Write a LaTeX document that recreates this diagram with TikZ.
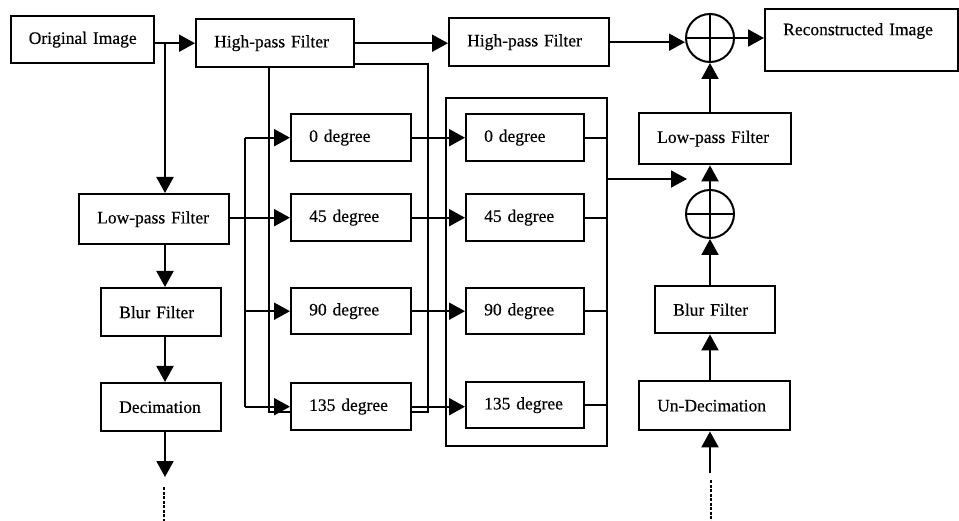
\documentclass[tikz,border=0pt]{standalone}
\usepackage{fontspec}
\setmainfont{Liberation Serif}[FakeBold=0.4]
\usetikzlibrary{arrows.meta}
\begin{document}
\begin{tikzpicture}[x=1pt,y=-1pt,
  font=\fontsize{17.5}{20}\selectfont,
  line width=2pt,
  >={Triangle[length=16pt,width=17pt]},
  box/.style={draw, line width=2.4pt, rectangle, inner xsep=18pt, inner ysep=0pt, align=left, anchor=north west},
  sumnode/.style={draw, circle, line width=2pt, minimum size=48pt, inner sep=0pt},
  dashedline/.style={line width=1.3pt, dash pattern=on 3pt off 1.5pt},
]
\useasboundingbox (0,0) rectangle (959,521);

% left column
\node[box, inner xsep=5pt, align=center, text width=133pt, minimum height=47pt] (orig) at (10,15) {Original Image};
\node[box, text width=122pt, minimum height=48pt] (hpf1) at (195,18) {High-pass Filter};
\node[box, text width=124pt, minimum height=48pt] (hpf2) at (448,17) {High-pass Filter};
\node[box, text width=157pt, text height=26pt, text depth=36pt] (rec) at (764,8) {Reconstructed Image};
\node[box, text width=114pt, minimum height=50pt] (lpfL) at (78,193) {Low-pass Filter};
\node[box, text width=84pt, minimum height=48pt] (blurL) at (100,287) {Blur Filter};
\node[box, text width=84pt, minimum height=48pt] (dec) at (100,382) {Decimation};

% degree columns
\node[box, text width=84pt, minimum height=47pt] (d0) at (290,113) {0 degree};
\node[box, text width=84pt, minimum height=47pt] (d45) at (290,193) {45 degree};
\node[box, text width=84pt, minimum height=46pt] (d90) at (290,287) {90 degree};
\node[box, text width=84pt, minimum height=47pt] (d135) at (290,382) {135 degree};

\node[draw, line width=2.2pt, rectangle, inner sep=0pt, minimum width=161pt, minimum height=348pt, anchor=north west] (bank) at (445,97) {};
\node[box, text width=82pt, minimum height=47pt] (e0) at (465,113) {0 degree};
\node[box, text width=82pt, minimum height=47pt] (e45) at (465,193) {45 degree};
\node[box, text width=82pt, minimum height=46pt] (e90) at (465,287) {90 degree};
\node[box, text width=82pt, minimum height=46pt] (e135) at (465,381) {135 degree};

% right column
\node[sumnode] (s1) at (710,38) {};
\node[sumnode] (s2) at (710,214) {};
\draw[line width=2.6pt] (s1.north) -- (s1.south) (s1.west) -- (s1.east);
\draw[line width=2.6pt] (s2.north) -- (s2.south) (s2.west) -- (s2.east);
\node[box, text width=116pt, minimum height=51pt] (lpfR) at (638,112) {Low-pass Filter};
\node[box, text width=84pt, minimum height=47pt] (blurR) at (654,285) {Blur Filter};
\node[box, text width=115pt, minimum height=49pt] (undec) at (638,380) {Un-Decimation};

% coordinates
\coordinate (j1) at (165,42);
\coordinate (lout) at (165,477);
\coordinate (la) at (164,487);
\coordinate (lb) at (164,521);
\coordinate (bus) at (245,0);
\coordinate (hb) at (269,412);
\coordinate (hr) at (428,64);
\coordinate (bo) at (687,179);
\coordinate (ri) at (710,473);
\coordinate (ra) at (711,480);
\coordinate (rb) at (711,521);

% left connectors
\draw[->] (orig.east |- hpf1.west) -- (hpf1.west);
\draw[->] (j1) -- (j1 |- lpfL.north);
\draw[->] (j1 |- lpfL.south) -- (j1 |- blurL.north);
\draw[->] (j1 |- blurL.south) -- (j1 |- dec.north);
\draw[->] (j1 |- dec.south) -- (lout);
\draw[dashedline] (la) -- (lb);

% high-pass branch
\draw (hb |- hpf1.south) -- (hb) -- (hb -| d135.west);
\draw (hpf1.east |- hr) -- (hr) -- (hr |- hb) -- (d135.east |- hb);

% bus into degree boxes
\draw (bus |- d0.west) -- (bus |- d135.west);
\draw[->] (bus |- d0.west) -- (d0.west);
\draw[->] (lpfL.east |- d45.west) -- (d45.west);
\draw[->] (bus |- d90.west) -- (d90.west);
\draw[->] (bus |- d135.west) -- (d135.west);

% column 1 to column 2
\draw[->] (d0.east) -- (d0.east -| e0.west);
\draw[->] (d45.east) -- (d45.east -| e45.west);
\draw[->] (d90.east) -- (d90.east -| e90.west);
\draw[->] (d135.east) -- (d135.east -| e135.west);

% column 2 outputs
\draw (e0.east) -- (e0.east -| bank.east);
\draw (e45.east) -- (e45.east -| bank.east);
\draw (e90.east) -- (e90.east -| bank.east);
\draw (e135.east) -- (e135.east -| bank.east);
\draw[->] (bank.east |- bo) -- (bo);

% top path
\draw[->] (hpf1.east) -- (hpf1.east -| hpf2.west);
\draw[->] (hpf2.east) -- (hpf2.east -| s1.west);
\draw[->] (s1.east) -- (s1.east -| rec.west);

% right column connectors
\draw[->] (s1.south |- lpfR.north) -- (s1.south);
\draw[->] (s2.north) -- (s2.north |- lpfR.south);
\draw[->] (s2.south |- blurR.north) -- (s2.south);
\draw[->] (s2.south |- undec.north) -- (s2.south |- blurR.south);
\draw[->] (ri) -- (ri |- undec.south);
\draw[dashedline] (ra) -- (rb);
\end{tikzpicture}
\end{document}
